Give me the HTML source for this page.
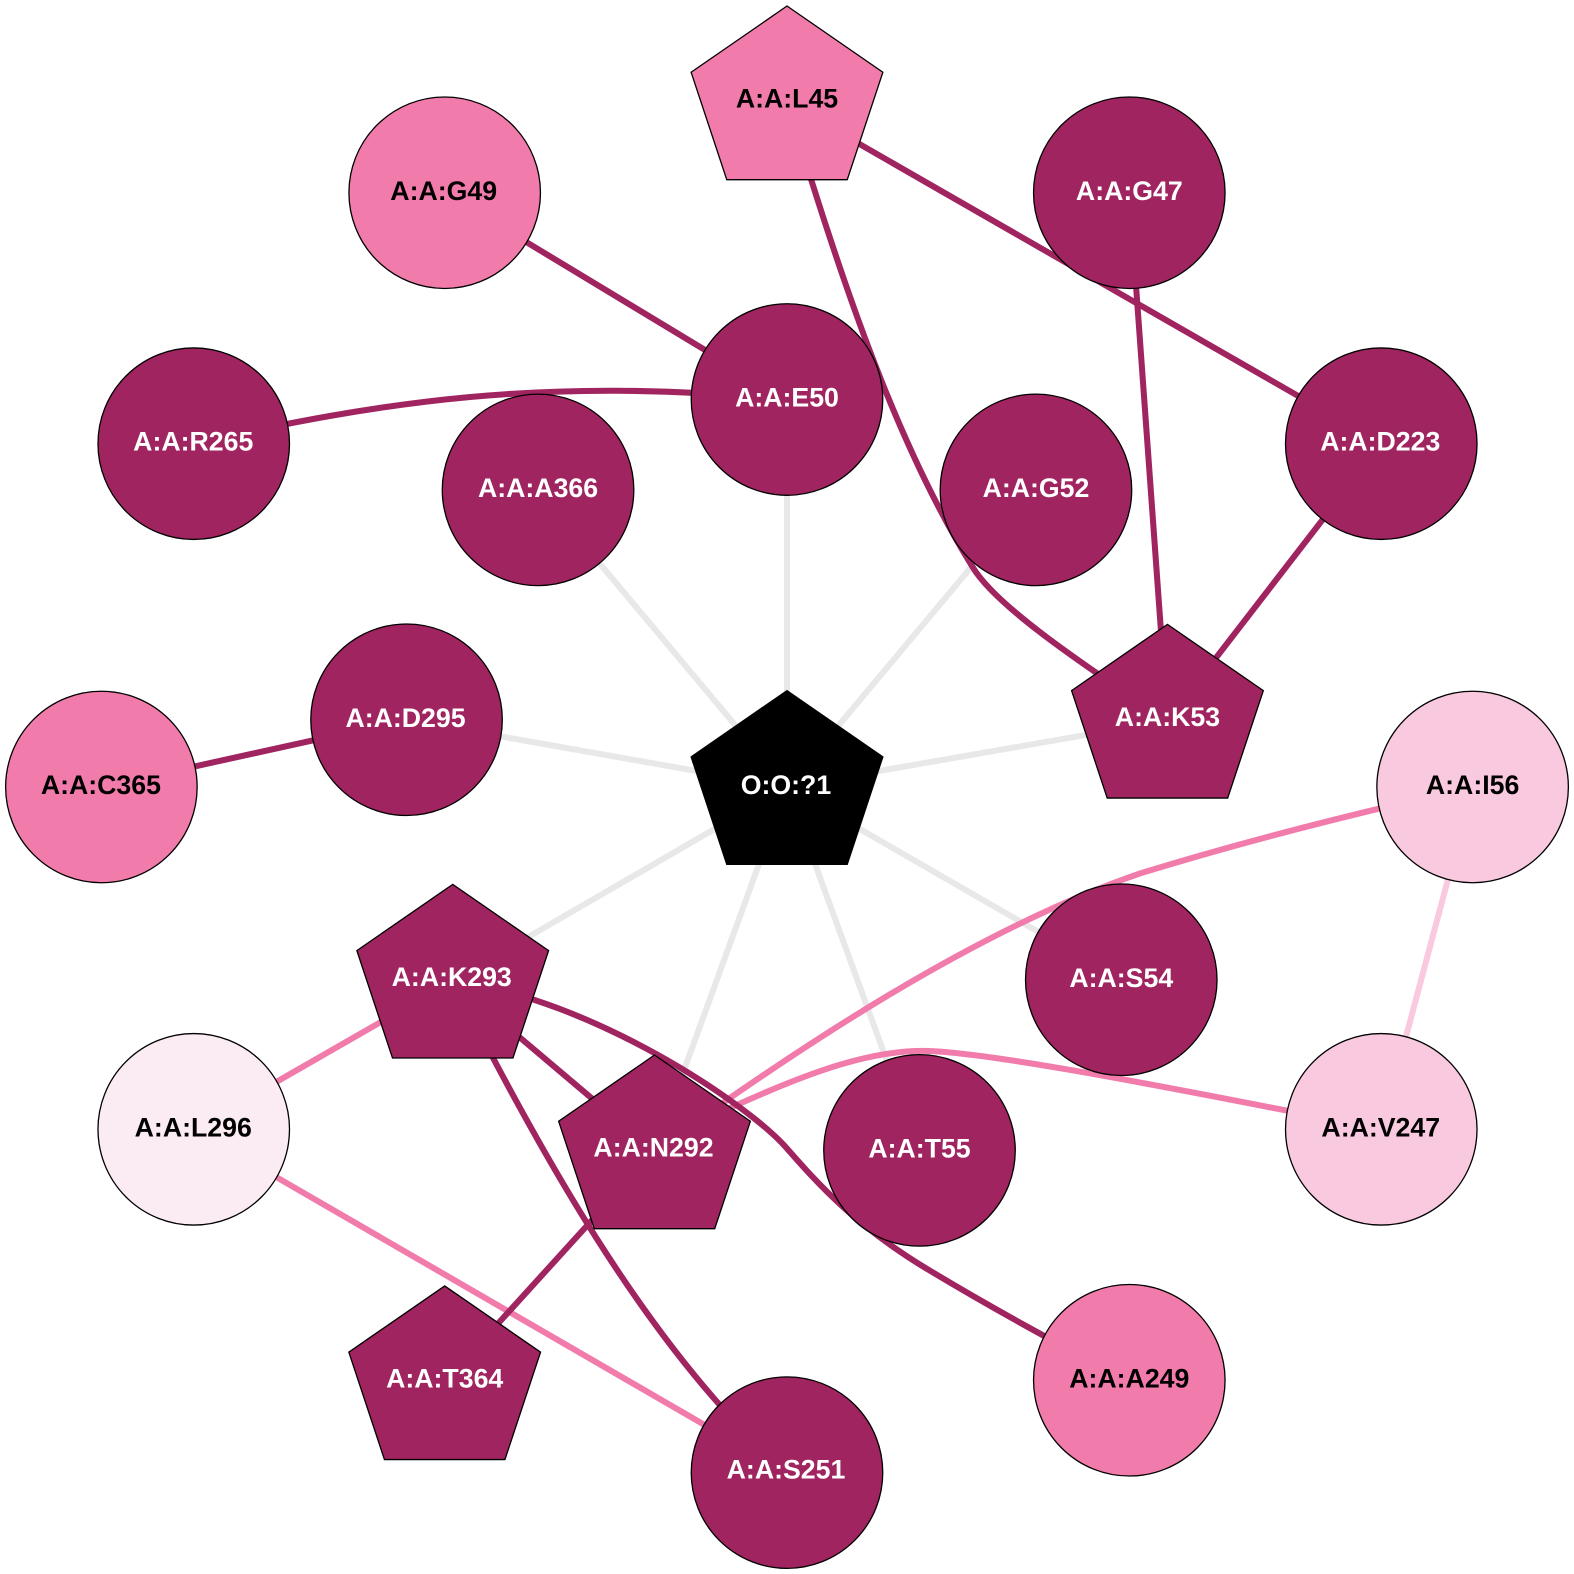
<!DOCTYPE html>
<html><head><meta charset="utf-8"><style>
html,body{margin:0;padding:0;background:#fff;width:1574px;height:1574px;overflow:hidden}
svg{display:block}
text{font-family:"Liberation Sans",sans-serif;font-weight:bold;font-size:26.6px;text-anchor:middle}
.e{fill:none;stroke-width:6}
.n{stroke:#000;stroke-width:1.3}
.g{stroke:#e8e8e8}.d{stroke:#a0245f}.p{stroke:#f17cab}.l{stroke:#f9c9df}
</style></head><body>
<svg width="1574" height="1574" viewBox="0 0 1568 1568" xmlns="http://www.w3.org/2000/svg">
<defs><polygon id="pent" points="0,-96 95.5,-30 60,77 -60,77 -95.5,-30"/></defs>
<g class="e">
<path class="g" d="M784 784L784 398"/>
<path class="g" d="M784 784L536 488"/>
<path class="g" d="M784 784L1032 488"/>
<path class="g" d="M784 784L405 717"/>
<path class="g" d="M784 784L1163 718"/>
<path class="g" d="M784 784L451 977"/>
<path class="g" d="M784 784L1117 976"/>
<path class="g" d="M784 784L652 1147"/>
<path class="g" d="M784 784L916 1146"/>
<path class="p" d="M451 977L193 1125"/>
<path class="p" d="M193 1125L784 1467"/>
<path class="p" d="M652 1147C800 1040 975 925 1136 870C1240 838 1350 810 1467 784"/>
<path class="p" d="M700 1116C790 1075 860 1045 925 1047C980 1049 1100 1070 1376 1125"/>
<path class="l" d="M1467 784L1376 1125"/>
<path class="d" d="M443 192L784 398"/>
<path class="d" d="M193 442C380 400 540 375 784 398"/>
<path class="d" d="M784 102C830 250 885 430 969 565C990 600 1060 650 1163 718"/>
<path class="d" d="M784 102L1376 442"/>
<path class="d" d="M1125 192L1163 718"/>
<path class="d" d="M1376 442L1163 718"/>
<path class="d" d="M101 784L405 717"/>
<path class="d" d="M451 977L652 1147"/>
<path class="d" d="M451 977C590 995 745 1100 783 1143C813 1177 850 1220 925 1265C985 1301 1060 1343 1125 1375"/>
<path class="d" d="M451 977C530 1130 640 1340 784 1467"/>
<path class="d" d="M652 1147L443 1377"/>
</g>
<g class="n">
<circle cx="443" cy="192" r="95.4" fill="#f17cab"/>
<circle cx="1125" cy="192" r="95.4" fill="#a0245f"/>
<circle cx="784" cy="398" r="95.4" fill="#a0245f"/>
<circle cx="193" cy="442" r="95.4" fill="#a0245f"/>
<circle cx="536" cy="488" r="95.4" fill="#a0245f"/>
<circle cx="1032" cy="488" r="95.4" fill="#a0245f"/>
<circle cx="1376" cy="442" r="95.4" fill="#a0245f"/>
<circle cx="405" cy="717" r="95.4" fill="#a0245f"/>
<circle cx="101" cy="784" r="95.4" fill="#f17cab"/>
<circle cx="1467" cy="784" r="95.4" fill="#f9c9df"/>
<circle cx="1117" cy="976" r="95.4" fill="#a0245f"/>
<circle cx="916" cy="1146" r="95.4" fill="#a0245f"/>
<circle cx="193" cy="1125" r="95.4" fill="#fbebf3"/>
<circle cx="1376" cy="1125" r="95.4" fill="#f9c9df"/>
<circle cx="1125" cy="1375" r="95.4" fill="#f17cab"/>
<circle cx="784" cy="1467" r="95.4" fill="#a0245f"/>
<use href="#pent" x="784" y="102" fill="#f17cab"/>
<use href="#pent" x="784" y="784" fill="#000"/>
<use href="#pent" x="1163" y="718" fill="#a0245f"/>
<use href="#pent" x="451" y="977" fill="#a0245f"/>
<use href="#pent" x="652" y="1147" fill="#a0245f"/>
<use href="#pent" x="443" y="1377" fill="#a0245f"/>
</g>
<g fill="#fff">
<text x="1125" y="199">A:A:G47</text>
<text x="784" y="405">A:A:E50</text>
<text x="192.5" y="449">A:A:R265</text>
<text x="536" y="495">A:A:A366</text>
<text x="1032" y="495">A:A:G52</text>
<text x="1375" y="449">A:A:D223</text>
<text x="404" y="724">A:A:D295</text>
<text x="1117" y="983">A:A:S54</text>
<text x="916" y="1153">A:A:T55</text>
<text x="783" y="1473">A:A:S251</text>
<text x="783" y="791">O:O:?1</text>
<text x="1163" y="723">A:A:K53</text>
<text x="450" y="982">A:A:K293</text>
<text x="651" y="1152">A:A:N292</text>
<text x="443" y="1382">A:A:T364</text>
</g>
<g fill="#000">
<text x="442" y="199">A:A:G49</text>
<text x="784" y="107">A:A:L45</text>
<text x="100.5" y="791">A:A:C365</text>
<text x="1467" y="791">A:A:I56</text>
<text x="192.5" y="1132">A:A:L296</text>
<text x="1375.5" y="1132">A:A:V247</text>
<text x="1125" y="1382">A:A:A249</text>
</g>
</svg>
</body></html>
